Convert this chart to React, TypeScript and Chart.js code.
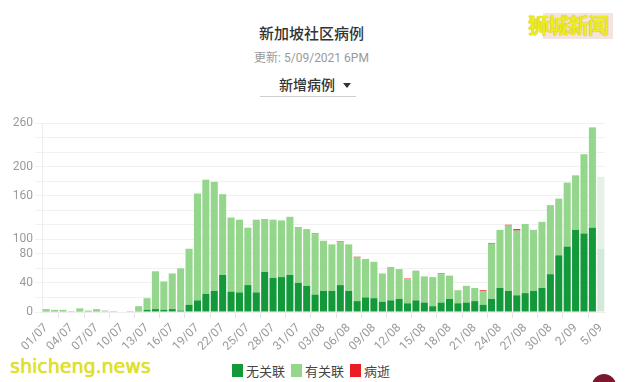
import { useEffect, useRef } from "react";
import { Chart, registerables } from "chart.js";
Chart.register(...registerables);

const categories = [
  "01/07","02/07","03/07","04/07","05/07","06/07","07/07","08/07","09/07","10/07",
  "11/07","12/07","13/07","14/07","15/07","16/07","17/07","18/07","19/07","20/07",
  "21/07","22/07","23/07","24/07","25/07","26/07","27/07","28/07","29/07","30/07","31/07",
  "01/08","02/08","03/08","04/08","05/08","06/08","07/08","08/08","09/08","10/08",
  "11/08","12/08","13/08","14/08","15/08","16/08","17/08","18/08","19/08","20/08",
  "21/08","22/08","23/08","24/08","25/08","26/08","27/08","28/08","29/08","30/08","31/08",
  "1/09","2/09","3/09","4/09","5/09",
];

const unlinked = [
  1,1,1,1,1,1,1,0,1,0,
  1,1,3,4,3,4,2,10,16,25,
  29,51,28,27,37,27,55,47,48,51,40,
  36,24,29,29,37,29,15,20,19,14,
  16,18,12,16,13,8,13,18,12,13,
  15,10,18,33,29,23,26,29,33,52,78,
  90,113,108,116,87,
];

const linked = [
  3,2,2,0,4,1,3,2,0,0,
  0,7,16,52,39,49,58,77,147,157,
  150,111,102,100,79,100,73,80,78,80,77,
  78,83,69,64,59,64,60,53,50,39,
  46,41,33,41,36,40,39,32,18,23,
  18,19,76,80,90,89,95,84,91,95,78,
  88,75,109,138,99,
];

const deaths = [
  0,0,0,0,0,0,0,0,0,0,
  0,0,0,0,0,0,0,0,0,0,
  0,0,0,0,0,0,0,0,0,0,0,
  0,1,0,0,1,0,1,0,0,0,
  0,0,1,0,0,0,1,0,0,0,
  0,1,1,0,1,2,0,0,0,0,0,
  0,0,0,0,0,
];

const yTickLabels = [0, 40, 80, 100, 160, 200, 260];
const seriesNames = ["无关联", "有关联", "病逝"];
const DARK = "#13993a";
const LIGHT = "#93d68c";
const RED = "#ec1c24";

export default function App() {
  const ref = useRef<HTMLCanvasElement>(null);
  useEffect(() => {
    const last = categories.length - 1;
    const colorFor = (c: string, faded: string) =>
      categories.map((_, i) => (i === last ? faded : c));
    const chart = new Chart(ref.current!, {
      type: "bar",
      data: {
        labels: categories,
        datasets: [
          { label: seriesNames[0], data: unlinked, backgroundColor: colorFor(DARK, "#d3e9d9"), stack: "s", categoryPercentage: 1, barPercentage: 0.84 },
          { label: seriesNames[1], data: linked, backgroundColor: colorFor(LIGHT, "#e6f1e7"), stack: "s", categoryPercentage: 1, barPercentage: 0.84 },
          { label: seriesNames[2], data: deaths, backgroundColor: colorFor(RED, "#f6dada"), stack: "s", categoryPercentage: 1, barPercentage: 0.84 },
        ],
      },
      options: {
        animation: false,
        responsive: false,
        maintainAspectRatio: false,
        layout: { padding: { top: 23, right: 21, left: 0, bottom: 0 } },
        plugins: { legend: { display: false }, tooltip: { enabled: false } },
        scales: {
          x: {
            stacked: true,
            grid: { drawOnChartArea: false, color: "#e3e3e3", tickLength: 6 },
            border: { color: "#eeeeee" },
            ticks: {
              autoSkip: false,
              minRotation: 45,
              maxRotation: 45,
              color: "#9a9a9a",
              padding: 3,
              font: { size: 12, family: "Roboto" },
              callback: (_v: any, i: number) => (i % 3 === 0 ? categories[i] : null),
            },
            afterFit: (s: any) => { s.height = 38; },
          },
          y: {
            stacked: true,
            min: 0,
            max: 260,
            grid: { color: "#f1f1f1", tickLength: 7 },
            border: { color: "#eeeeee" },
            ticks: {
              autoSkip: false,
              stepSize: 20,
              color: "#9a9a9a",
              padding: 2,
              font: { size: 12, family: "Roboto" },
              callback: (v: any) => (yTickLabels.includes(Number(v)) ? String(v) : ""),
            },
            afterFit: (s: any) => { s.width = 42; },
          },
        },
      },
    } as any);
    return () => chart.destroy();
  }, []);

  const legendColors = [DARK, LIGHT, RED];

  return (
    <div style={{ position: "fixed", left: 0, top: 0, width: 626, height: 382, background: "#fff", overflow: "hidden", fontFamily: "'Noto Sans CJK SC', Roboto, sans-serif" }}>
      <div style={{ position: "absolute", left: 0, width: 623, top: 22, textAlign: "center", fontSize: 15, fontWeight: 500, color: "#333" }}>新加坡社区病例</div>
      <div style={{ position: "absolute", left: 0, width: 623, top: 48, textAlign: "center", fontSize: 12, color: "#9a9a9a", fontFamily: "Roboto, 'Noto Sans CJK SC', sans-serif" }}>更新: 5/09/2021 6PM</div>
      <div style={{ position: "absolute", left: 279, top: 74, fontSize: 14, fontWeight: 500, color: "#333", whiteSpace: "nowrap" }}>新增病例</div>
      <div style={{ position: "absolute", left: 343, top: 83, width: 0, height: 0, borderLeft: "4.5px solid transparent", borderRight: "4.5px solid transparent", borderTop: "5px solid #333" }} />
      <div style={{ position: "absolute", left: 260, top: 96, width: 96, height: 1, background: "#cfcfcf" }} />
      <div style={{ position: "absolute", left: 543, top: 13, width: 70, height: 26, background: "rgba(238,208,204,0.6)" }} />
      <div style={{ position: "absolute", left: 528, top: 9, fontSize: 21, fontWeight: 700, color: "#eded1a", whiteSpace: "nowrap", letterSpacing: -1, textShadow: "0 0 1px #b8a000" }}>狮城新闻</div>
      <canvas ref={ref} width={626} height={250} style={{ position: "absolute", left: 0, top: 100, width: 626, height: 250 }} />
      <div style={{ position: "absolute", left: 10, top: 355, fontSize: 19, lineHeight: "22px", color: "#e2e22c", fontFamily: "'DejaVu Sans', sans-serif", whiteSpace: "nowrap", textShadow: "0 0 1px #c8c000" }}>shicheng.news</div>
      <div style={{ position: "absolute", left: 232, top: 361, display: "flex", alignItems: "center", fontSize: 13, color: "#444", whiteSpace: "nowrap" }}>
        {seriesNames.map((n, i) => (
          <div key={n} style={{ display: "flex", alignItems: "center", marginRight: 6 }}>
            <div style={{ width: 11, height: 13, background: legendColors[i], marginRight: 3 }} />
            <span>{n}</span>
          </div>
        ))}
      </div>
      <div style={{ position: "absolute", left: 592, top: 374, width: 24, height: 24, borderRadius: 12, background: "#7d1730" }} />
    </div>
  );
}
